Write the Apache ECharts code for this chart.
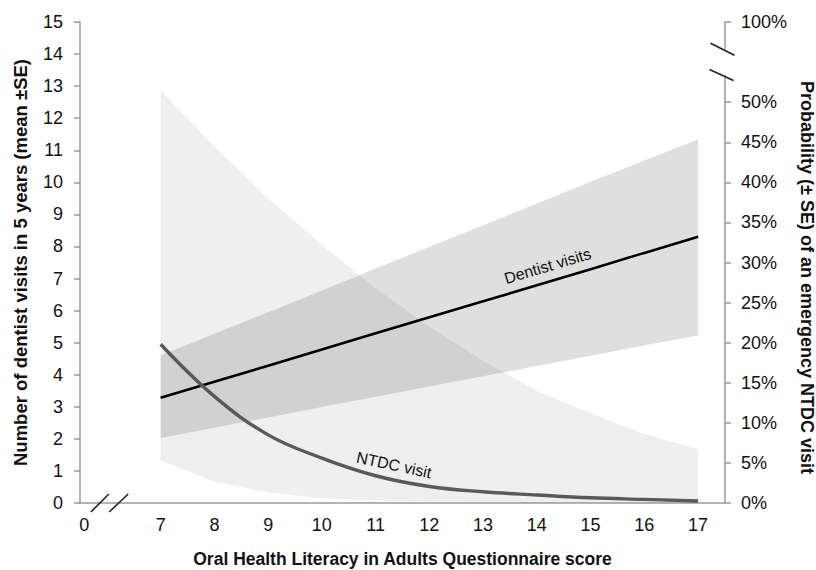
<!DOCTYPE html>
<html><head><meta charset="utf-8">
<script src="https://cdn.jsdelivr.net/npm/echarts@6/dist/echarts.min.js"></script>
<style>html,body{margin:0;padding:0;background:#fff}#c{width:816px;height:570px}</style>
</head><body><div id="c"></div>
<script>
// ---- data ----
const scores = [7, 8, 9, 10, 11, 12, 13, 14, 15, 16, 17];
const dentistMean  = [3.28, 3.78, 4.28, 4.79, 5.29, 5.79, 6.29, 6.79, 7.29, 7.80, 8.30];
const dentistLower = [2.03, 2.35, 2.67, 2.99, 3.31, 3.63, 3.95, 4.27, 4.59, 4.91, 5.22];
const dentistUpper = [4.60, 5.28, 5.95, 6.63, 7.31, 7.99, 8.66, 9.34, 10.02, 10.68, 11.34];
const ntdcMean  = [19.8, 13.3, 8.5, 5.6, 3.4, 2.06, 1.4, 1.0, 0.65, 0.45, 0.25];   // %
const ntdcLower = [5.3, 2.65, 1.3, 0.6, 0.3, 0.15, 0.1, 0.05, 0.03, 0.02, 0.01];    // %
const ntdcUpper = [51.5, 44.5, 38.0, 32.2, 26.8, 22.0, 17.7, 14.0, 11.2, 8.6, 6.7]; // %
const xTickLabels = ['0', '7', '8', '9', '10', '11', '12', '13', '14', '15', '16', '17'];
const leftTickLabels = ['0','1','2','3','4','5','6','7','8','9','10','11','12','13','14','15'];
const rightTickLabels = ['0%','5%','10%','15%','20%','25%','30%','35%','40%','45%','50%','100%'];

// ---- layout constants (not data) ----
const X_MIN = 5.5, X_MAX = 17.5;
const X_ZERO_POS = 5.58;          // where the broken-axis "0" label sits
const R_MAX = 60;                  // right axis top (labelled 100%)
const FONT = "'Liberation Sans', Arial, sans-serif";

const xLabelPos = xTickLabels.map(t => t === '0' ? X_ZERO_POS : Number(t));
const rightPos = rightTickLabels.map(t => t === '100%' ? R_MAX : parseFloat(t));
const leftPos = leftTickLabels.map(Number);

const zip = (a) => scores.map((s, i) => [s, a[i]]);

function bandSeries(upper, lower, yi, color) {
  return {
    type: 'custom', yAxisIndex: yi, silent: true, z: 1,
    data: [[scores[0], lower[0]]],
    renderItem: (params, api) => {
      const top = scores.map((s, i) => api.coord([s, upper[i]]));
      const bot = scores.map((s, i) => api.coord([s, lower[i]])).reverse();
      return {type: 'polygon', shape: {points: top.concat(bot)}, style: {fill: color}};
    }
  };
}

const chart = echarts.init(document.getElementById('c'), null, {renderer: 'svg'});
const axisLine = {show: true, lineStyle: {color: '#9a9a9a', width: 1.5}};
const tickFont = {color: '#111', fontSize: 18, fontFamily: FONT};
const titleFont = {color: '#111', fontSize: 18.5, fontWeight: 'bold', fontFamily: FONT};
const option = {
  animation: false,
  backgroundColor: '#fff',
  grid: {left: 80, right: 91, top: 22, bottom: 67, outerBoundsMode: 'none'},
  xAxis: {
    type: 'value', min: X_MIN, max: X_MAX,
    axisLine: axisLine,
    axisTick: {show: false},
    splitLine: {show: false},
    axisLabel: Object.assign({customValues: xLabelPos, margin: 13,
      formatter: v => xTickLabels[xLabelPos.indexOf(v)]}, tickFont),
    name: 'Oral Health Literacy in Adults Questionnaire score',
    nameLocation: 'middle', nameGap: 47,
    nameTextStyle: Object.assign({}, titleFont, {fontSize: 17.5})
  },
  yAxis: [{
    type: 'value', min: 0, max: 15, interval: 1,
    axisLine: axisLine,
    axisTick: {show: true, length: 6, lineStyle: {color: '#9a9a9a', width: 1.5}, customValues: leftPos},
    splitLine: {show: false},
    axisLabel: Object.assign({customValues: leftPos, margin: 17,
      formatter: v => leftTickLabels[leftPos.indexOf(v)]}, tickFont),
    name: 'Number of dentist visits in 5 years (mean ±SE)',
    nameLocation: 'middle', nameGap: 50,
    nameTextStyle: titleFont
  }, {
    type: 'value', min: 0, max: R_MAX, position: 'right',
    axisLine: axisLine,
    axisTick: {show: true, length: 6, lineStyle: {color: '#9a9a9a', width: 1.5}, customValues: rightPos},
    splitLine: {show: false},
    axisLabel: Object.assign({customValues: rightPos, margin: 16,
      formatter: v => rightTickLabels[rightPos.indexOf(v)]}, tickFont),
    name: 'Probability (± SE) of an emergency NTDC visit',
    nameLocation: 'middle', nameGap: 65, nameRotate: -90,
    nameTextStyle: Object.assign({}, titleFont, {fontSize: 18, padding: [0, 0, 0, 30]})
  }],
  series: [
    bandSeries(ntdcUpper, ntdcLower, 1, 'rgba(0,0,0,0.062)'),
    bandSeries(dentistUpper, dentistLower, 0, 'rgba(0,0,0,0.125)'),
    {type: 'line', name: 'Dentist visits', data: zip(dentistMean), symbol: 'none',
      lineStyle: {color: '#000', width: 2.6}, z: 5},
    {type: 'line', name: 'NTDC visit', yAxisIndex: 1, data: zip(ntdcMean), symbol: 'none', smooth: 0.4,
      lineStyle: {color: '#595959', width: 3.4}, z: 6}
  ]
};
chart.setOption(option);

// ---- decorations: axis break marks & in-plot series labels ----
const px = (x, y, yi) => chart.convertToPixel({xAxisIndex: 0, yAxisIndex: yi}, [x, y]);
const rightX = px(X_MAX, 0, 1)[0];
const bottomY = px(X_MIN, 0, 0)[1];
const b1 = px(X_MAX, 56.6, 1)[1], b2 = px(X_MAX, 53.4, 1)[1];
const s1 = px(5.87, 0, 0)[0], s2 = px(6.22, 0, 0)[0];
const slash = (cx, cy, dx, dy) => ({type: 'line', z: 100,
  shape: {x1: cx - dx, y1: cy - dy, x2: cx + dx, y2: cy + dy},
  style: {stroke: '#222', lineWidth: 1.6}});
const dl = px(14.2, 7.39, 0), nl = px(11.34, 4.74, 1);
chart.setOption({graphic: [
  {type: 'rect', z: 99, shape: {x: rightX - 2, y: b1, width: 4, height: b2 - b1}, style: {fill: '#fff'}},
  slash(rightX - 2.5, b1, 12, 6),
  slash(rightX - 3.5, b2, 12, 5.5),
  slash(s1, bottomY, 9, -9),
  slash(s2, bottomY, 9.5, -9),
  {type: 'text', z: 100, x: dl[0], y: dl[1], rotation: 16.7 * Math.PI / 180,
    style: {text: 'Dentist visits', fill: '#111', font: '16px ' + FONT, align: 'center', verticalAlign: 'middle'}},
  {type: 'text', z: 100, x: nl[0], y: nl[1], rotation: -12 * Math.PI / 180,
    style: {text: 'NTDC visit', fill: '#111', font: '16px ' + FONT, align: 'center', verticalAlign: 'middle'}}
]});
</script>
</body></html>
